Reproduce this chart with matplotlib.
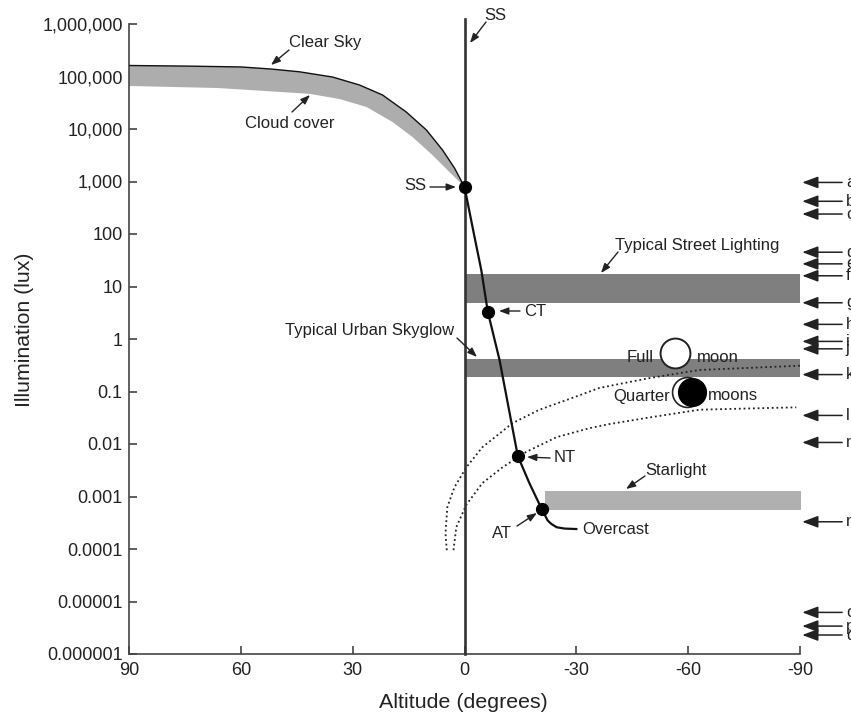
import matplotlib
matplotlib.use('Agg')
import matplotlib.pyplot as plt

plt.rcParams['font.family'] = ['Liberation Sans', 'DejaVu Sans']

# Dados (altitude in degrees, illumination in lux)
clear_alt = [90, 75, 60, 52, 44.3, 35.4, 28.2, 22, 15.6, 10.2, 5.9, 2.7, 0]
clear_lux = [162000, 158000, 152000, 139000, 123000, 97700, 69000, 44500,
             21000, 9550, 3980, 1810, 790]
cloud_alt = [90, 66, 41.6, 33.5, 26.3, 19.3, 13.9, 8.6, 4, 0]
cloud_lux = [66000, 60300, 46800, 37200, 26300, 13600, 7000, 3190, 1510, 790]

twi_alt = [0, -2.7, -4.5, -6.25, -9.4, -12.1, -14.3, -17.4, -20.7, -22.3,
           -23.3, -24.7, -26.8, -30]
twi_lux = [790, 87, 20.6, 3.3, 0.398, 0.039, 0.0059, 0.0018, 0.00058, 0.00035,
           0.0003, 0.00026, 0.000245, 0.00024]
dot_alt = [0, -6.25, -14.3, -20.7]
dot_lux = [790, 3.3, 0.0059, 0.00058]

moon1_alt = [4.75, 5.1, 4.6, 2.7, -0.5, -4.8, -12.9, -20.1, -27.4, -36.2,
             -49.6, -63, -90]
moon1_lux = [0.000095, 0.0002, 0.00063, 0.0015, 0.0036, 0.0087, 0.025, 0.045,
             0.069, 0.117, 0.18, 0.257, 0.31]
moon2_alt = [2.95, 2.2, -0.45, -4.8, -10.2, -16.6, -24.7, -33.5, -38.9, -49.6,
             -63, -89]
moon2_lux = [0.000095, 0.00026, 0.00069, 0.0018, 0.0036, 0.0071, 0.0135, 0.02,
             0.024, 0.032, 0.045, 0.05]

street_band = (0, -90, 4.85, 17)
skyglow_band = (0, -90, 0.19, 0.415)
starlight_band = (-21.5, -90.3, 0.00055, 0.00127)

side_labels = list('abcdefghijklmnopq')
side_lux = [960, 420, 240, 45, 27, 16, 4.9, 1.9, 0.9, 0.65, 0.21, 0.035,
            0.0107, 0.00033, 0.0000062, 0.0000034, 0.0000023]

x_ticks = [90, 60, 30, 0, -30, -60, -90]
x_labels = ['90', '60', '30', '0', '-30', '-60', '-90']
y_ticks = [1e6, 1e5, 1e4, 1e3, 1e2, 1e1, 1, 0.1, 0.01, 0.001, 0.0001,
           0.00001, 0.000001]
y_labels = ['1,000,000', '100,000', '10,000', '1,000', '100', '10', '1', '0.1',
            '0.01', '0.001', '0.0001', '0.00001', '0.000001']

W, H = 851, 713
ink = '#222222'
fig = plt.figure(figsize=(W / 100, H / 100), dpi=100)
ax = fig.add_axes([129 / W, (H - 654) / H, 671 / W, 630 / H])
ax.set_yscale('log')
ax.set_xlim(90, -90)
ax.set_ylim(1e-6, 1e6)

# bands
for b, c in [(street_band, '#7f7f7f'), (skyglow_band, '#7f7f7f'),
             (starlight_band, '#b0b0b0')]:
    ax.fill_between([b[0], b[1]], b[2], b[3], color=c, lw=0, zorder=1,
                    clip_on=False)

# daylight wedge
ax.fill(clear_alt + cloud_alt[::-1], clear_lux + cloud_lux[::-1],
        color='#adadad', lw=0, zorder=2)
ax.plot(clear_alt, clear_lux, color='#111111', lw=1.0, zorder=3)

# moonlight
ax.plot(moon1_alt, moon1_lux, color='#222222', lw=1.3, ls=(0, (1, 1.6)), zorder=3)
ax.plot(moon2_alt, moon2_lux, color='#222222', lw=1.3, ls=(0, (1, 1.6)), zorder=3)

# sunset line and twilight
ax.plot([0, 0], [1e-6, 10 ** 6.1], color='#333333', lw=1.9, zorder=4, clip_on=False)
ax.plot(twi_alt, twi_lux, color='#111111', lw=1.6, zorder=4)
ax.plot(dot_alt, dot_lux, 'o', color='black', ms=8.5, zorder=5)

# moons
ax.plot([-56.6], [0.54], 'o', mfc='white', mec='#222222', mew=1.4, ms=21.5, zorder=5)
ax.plot([-59.8], [0.098], 'o', mfc='white', mec='#222222', mew=1.2, ms=21.5, zorder=5)
ax.plot([-60.9], [0.098], 'o', color='black', ms=20, zorder=6)

for s in ['top', 'right']:
    ax.spines[s].set_visible(False)
for s in ['left', 'bottom']:
    ax.spines[s].set_color('#444444')
    ax.spines[s].set_linewidth(1.2)
ax.set_xticks(x_ticks)
ax.set_xticklabels(x_labels)
ax.set_yticks(y_ticks)
ax.set_yticklabels(y_labels)
ax.minorticks_off()
ax.tick_params(direction='in', length=5.5, width=1.2, color='#444444',
               labelsize=13, labelcolor=ink)
ax.tick_params(axis='y', pad=4.5)
ax.tick_params(axis='x', pad=5.5)
ax.set_xlabel('Altitude (degrees)', fontsize=15.4, color=ink)
ax.set_ylabel('Illumination (lux)', fontsize=15.3, color=ink)
ax.xaxis.set_label_coords(0.498, -0.062)
ax.yaxis.set_label_coords(-0.1415, 0.514)


def label(x, y, s, ha='left'):
    fig.text(x / W, 1 - y / H, s, fontsize=12, color=ink, ha=ha, va='center')


def arrow(x0, y0, x1, y1):
    ax.annotate('', xy=(x1, H - y1), xytext=(x0, H - y0),
                xycoords='figure pixels', textcoords='figure pixels',
                arrowprops=dict(arrowstyle='-|>,head_length=0.4,head_width=0.15',
                                color=ink, lw=1.0, mutation_scale=14,
                                shrinkA=0, shrinkB=0),
                zorder=7, annotation_clip=False)


label(289, 43, 'Clear Sky')
arrow(289, 50, 271, 65)
label(245, 123, 'Cloud cover')
arrow(292, 112, 310, 95)
label(484, 15, 'SS')
arrow(486, 22, 470, 43)
label(404, 186, 'SS')
arrow(430, 187, 456, 187)
label(524, 311, 'CT')
arrow(520, 311, 499, 311)
label(554, 457, 'NT')
arrow(550, 458, 527, 457)
label(492, 534, 'AT')
arrow(517, 526, 537, 513)
label(582, 529, 'Overcast')
label(615, 246, 'Typical Street Lighting')
arrow(618, 252, 601, 273)
label(285, 330, 'Typical Urban Skyglow')
arrow(457, 338, 477, 357)
label(645, 470, 'Starlight')
arrow(645, 476, 626, 489)
label(627, 357, 'Full')
label(697, 357, 'moon')
label(613, 397, 'Quarter')
label(708, 396, 'moons')

# side letters
for s, v in zip(side_labels, side_lux):
    ax.annotate('', xy=(-90.6, v), xytext=(-101.3, v),
                arrowprops=dict(arrowstyle='-|>,head_length=0.4,head_width=0.15',
                                color=ink, lw=1.1, mutation_scale=24,
                                shrinkA=0, shrinkB=0),
                annotation_clip=False)
    ax.text(-102.3, v, s, fontsize=12, color=ink, ha='left', va='center',
            clip_on=False)

fig.savefig('out.png', dpi=100)
